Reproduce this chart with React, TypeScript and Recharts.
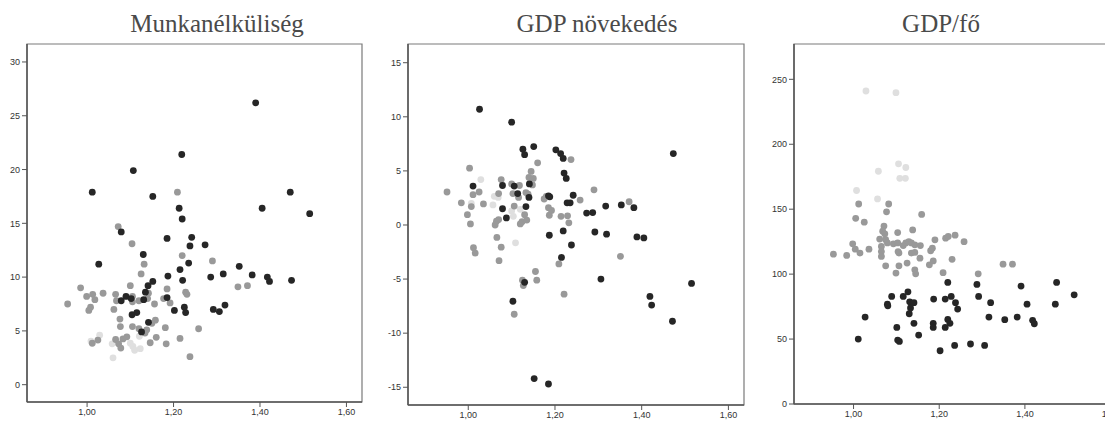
import React from "react";
import { ScatterChart, Scatter, XAxis, YAxis, ReferenceArea } from "recharts";

type P = [number, number];

const TITLES = ["Munkanélküliség", "GDP növekedés", "GDP/fő"];
const X_TICKS = [1.0, 1.2, 1.4, 1.6];
const X_DOMAIN: [number, number] = [0.861, 1.636];

const Y1_TICKS = [0, 5, 10, 15, 20, 25, 30];
const Y2_TICKS = [-15, -10, -5, 0, 5, 10, 15];
const Y3_TICKS = [0, 50, 100, 150, 200, 250];

// Panel 1: Munkanélküliség
const unempDark: P[] = [
  [1.390, 26.2], [1.219, 21.4], [1.107, 19.9], [1.012, 17.9], [1.152, 17.5], [1.470, 17.9],
  [1.213, 16.4], [1.405, 16.4], [1.220, 15.4], [1.515, 15.9], [1.079, 14.2], [1.185, 13.6],
  [1.242, 13.7], [1.238, 12.9], [1.273, 13.0], [1.130, 12.1], [1.027, 11.2], [1.235, 11.3],
  [1.352, 11.0], [1.215, 10.7], [1.187, 10.1], [1.221, 9.7], [1.286, 10.0], [1.315, 10.3],
  [1.382, 10.2], [1.417, 10.0], [1.422, 9.6], [1.473, 9.7], [1.079, 7.8], [1.090, 8.2],
  [1.102, 8.0], [1.135, 8.6], [1.141, 9.2], [1.152, 9.6], [1.131, 7.9], [1.185, 8.1],
  [1.202, 6.9], [1.225, 7.2], [1.228, 6.7], [1.104, 6.5], [1.115, 6.7], [1.142, 5.8],
  [1.126, 4.9], [1.292, 7.0], [1.306, 6.8], [1.319, 7.4],
];
const unempGray: P[] = [
  [1.209, 17.9], [1.072, 14.7], [1.104, 13.1], [1.220, 12.0], [1.132, 11.2], [1.290, 11.5],
  [1.125, 10.3], [1.349, 9.1], [1.371, 9.2], [0.985, 9.0], [0.955, 7.5], [0.999, 8.2],
  [1.013, 8.4], [1.018, 7.9], [1.008, 7.2], [1.004, 6.9], [1.037, 8.5], [1.066, 8.4],
  [1.068, 7.8], [1.062, 7.0], [1.100, 9.2], [1.142, 8.5], [1.156, 7.5], [1.185, 8.9],
  [1.177, 8.0], [1.192, 7.6], [1.228, 8.6], [1.231, 8.4], [1.076, 6.1], [1.077, 5.4],
  [1.105, 5.4], [1.158, 6.0], [1.150, 5.7], [1.138, 5.1], [1.120, 5.2], [1.134, 4.8],
  [1.181, 5.3], [1.258, 5.2], [1.160, 4.4], [1.215, 4.3], [1.146, 3.9], [1.183, 3.8],
  [1.238, 2.6], [1.025, 4.15], [1.012, 3.85], [1.066, 4.2], [1.073, 3.8], [1.078, 3.4],
  [1.083, 4.25], [1.092, 4.45], [1.105, 8.2], [1.120, 7.8], [1.140, 8.0], [1.105, 7.7],
];
const unempLight: P[] = [
  [1.009, 4.05], [1.029, 4.6], [1.058, 3.8], [1.060, 2.5], [1.100, 3.85], [1.106, 3.55],
  [1.110, 3.2], [1.123, 3.35], [1.121, 4.5],
];

// Panel 2: GDP növekedés
const growthDark: P[] = [
  [1.026, 10.7], [1.100, 9.5], [1.126, 7.0], [1.130, 6.5], [1.151, 7.25], [1.202, 6.95],
  [1.213, 6.6], [1.219, 6.15], [1.473, 6.6], [1.221, 4.8], [1.226, 4.3], [1.011, 3.6],
  [1.079, 3.65], [1.106, 3.6], [1.141, 3.8], [1.114, 2.9], [1.140, 2.55], [1.242, 2.75],
  [1.185, 2.7], [1.188, 2.6], [1.228, 2.05], [1.235, 2.05], [1.317, 1.75], [1.353, 1.85],
  [1.382, 1.6], [1.133, 1.7], [1.079, 1.5], [1.273, 1.1], [1.287, 1.15], [1.088, 0.65],
  [1.187, -0.95], [1.219, -0.55], [1.292, -0.65], [1.319, -0.85], [1.389, -1.1], [1.405, -1.2],
  [1.238, -1.85], [1.215, -3.0], [1.130, -5.3], [1.306, -5.0], [1.515, -5.4], [1.419, -6.6],
  [1.423, -7.4], [1.103, -7.05], [1.471, -8.9], [1.152, -14.2], [1.185, -14.7],
];
const growthGray: P[] = [
  [1.237, 6.05], [1.160, 5.75], [1.003, 5.25], [1.145, 4.95], [1.140, 4.4], [1.076, 4.2],
  [1.148, 3.7], [0.951, 3.05], [1.011, 2.8], [1.025, 3.05], [1.290, 3.25], [1.175, 2.4],
  [1.258, 2.3], [0.984, 2.05], [1.035, 1.95], [1.371, 2.15], [1.007, 1.7], [0.998, 0.95],
  [1.005, 0.1], [1.065, 0.35], [1.070, 0.5], [1.106, 1.75], [1.124, 0.3], [1.130, 0.95],
  [1.187, 0.9], [1.192, 1.35], [1.214, 0.8], [1.229, 0.85], [1.232, 0.2], [1.062, 0.0],
  [1.066, -1.15], [1.012, -2.1], [1.016, -2.6], [1.076, -2.05], [1.071, -3.3], [1.209, -3.6],
  [1.351, -2.9], [1.155, -4.3], [1.158, -5.1], [1.125, -5.1], [1.127, -5.6], [1.221, -6.4],
  [1.106, -8.25], [1.070, 2.9], [1.103, 2.9], [1.116, 2.55], [1.133, 3.0], [1.138, 2.85],
  [1.180, 2.65], [1.118, 3.65], [1.120, 0.1], [1.135, 0.45], [1.185, 1.6], [1.100, 3.8],
  [1.150, 4.3],
];
const growthLight: P[] = [
  [1.029, 4.2], [1.007, 2.0], [1.057, 1.85], [1.060, 2.65], [1.069, 2.55], [1.109, -1.65],
  [1.104, 0.8], [1.100, 1.3], [1.120, 1.45],
];

// Panel 3: GDP/fő
const gdpDark: P[] = [
  [1.220, 93.6], [1.288, 92.1], [1.474, 93.6], [1.391, 90.8], [1.089, 82.8], [1.116, 82.8],
  [1.127, 86.4], [1.131, 78.7], [1.141, 78.0], [1.133, 74.0], [1.130, 69.5], [1.079, 76.9],
  [1.080, 75.6], [1.187, 80.8], [1.214, 80.8], [1.228, 82.8], [1.238, 78.0], [1.243, 73.1],
  [1.292, 82.8], [1.320, 78.0], [1.405, 76.9], [1.471, 76.9], [1.515, 84.1], [1.027, 66.9],
  [1.141, 62.1], [1.186, 62.1], [1.186, 59.0], [1.214, 59.0], [1.220, 65.1], [1.225, 62.1],
  [1.316, 66.9], [1.353, 64.9], [1.382, 66.9], [1.418, 64.4], [1.422, 61.8], [1.101, 59.0],
  [1.011, 50.0], [1.103, 49.2], [1.107, 48.2], [1.152, 53.1], [1.202, 41.0], [1.236, 45.1],
  [1.273, 46.2], [1.306, 45.1],
];
const gdpGray: P[] = [
  [1.012, 154], [1.082, 154], [1.077, 148], [1.159, 146], [1.005, 143], [1.025, 140],
  [1.071, 137], [1.068, 133], [1.073, 131], [1.103, 132], [1.138, 134], [1.061, 127],
  [1.075, 126.5], [1.079, 124], [1.093, 123.3], [1.103, 124], [1.116, 122], [1.122, 124],
  [1.129, 125], [1.135, 124], [1.143, 122.6], [1.156, 122], [1.190, 126.4], [1.184, 120],
  [1.180, 118], [1.215, 127.7], [1.221, 129], [1.237, 130], [1.258, 125], [0.998, 123.3],
  [1.004, 119.2], [1.015, 116.2], [1.036, 119.2], [0.953, 115.4], [0.984, 114.4], [1.065, 121.3],
  [1.065, 117.4], [1.065, 113.6], [1.104, 117.4], [1.106, 116.2], [1.125, 108.5], [1.135, 116.2],
  [1.143, 116.7], [1.143, 103.3], [1.145, 100.2], [1.075, 106.4], [1.106, 106.4], [1.099, 100.8],
  [1.155, 112.3], [1.177, 107.2], [1.186, 110.2], [1.230, 111.4], [1.209, 101.1], [1.291, 100.2],
  [1.349, 107.7], [1.371, 107.7],
];
const gdpLight: P[] = [
  [1.029, 241.0], [1.099, 239.7], [1.105, 184.9], [1.122, 182.1], [1.058, 179.2], [1.108, 173.8],
  [1.121, 173.8], [1.007, 164.4], [1.056, 157.9],
];

const DARK = "#262626";
const GRAY = "#999999";
const LIGHT = "#dfdfdf";

const toObj = (arr: P[]) => arr.map(([x, y]) => ({ x, y }));

const dot = (color: string) => (props: any) => (
  <circle cx={props.cx} cy={props.cy} r={3.4} fill={color} />
);

const tickStyle = { fontSize: 9, fill: "#333", fontFamily: "'Liberation Sans', Arial, sans-serif" };
const fmtX = (v: number) => v.toFixed(2).replace(".", ",");

interface PanelProps {
  left: number;
  width: number;
  yAxisWidth: number;
  marginRight: number;
  plotBottom: number;
  yDomain: [number, number];
  yTicks: number[];
  dark: P[];
  gray: P[];
  light: P[];
}

const H = 415;
const TOP = 36;

function Panel(p: PanelProps) {
  return (
    <div style={{ position: "absolute", left: p.left, top: 0 }}>
      <ScatterChart
        width={p.width}
        height={H}
        margin={{ top: TOP, right: p.marginRight, bottom: 0, left: 0 }}
      >
        <XAxis
          type="number"
          dataKey="x"
          domain={X_DOMAIN}
          ticks={X_TICKS}
          allowDataOverflow
          tickFormatter={fmtX}
          height={H - p.plotBottom}
          tick={tickStyle}
          tickSize={5}
          tickMargin={2}
          axisLine={{ stroke: "#555", strokeWidth: 1.5 }}
          tickLine={{ stroke: "#555" }}
        />
        <YAxis
          type="number"
          dataKey="y"
          domain={p.yDomain}
          ticks={p.yTicks}
          allowDataOverflow
          width={p.yAxisWidth}
          tick={tickStyle}
          tickSize={5}
          tickMargin={2}
          axisLine={{ stroke: "#555", strokeWidth: 1.5 }}
          tickLine={{ stroke: "#555" }}
        />
        <ReferenceArea
          x1={X_DOMAIN[0]}
          x2={X_DOMAIN[1]}
          y1={p.yDomain[0]}
          y2={p.yDomain[1]}
          fill="none"
          stroke="#7a7a7a"
          strokeWidth={1.2}
          ifOverflow="visible"
        />
        <Scatter data={toObj(p.light)} shape={dot(LIGHT)} isAnimationActive={false} />
        <Scatter data={toObj(p.gray)} shape={dot(GRAY)} isAnimationActive={false} />
        <Scatter data={toObj(p.dark)} shape={dot(DARK)} isAnimationActive={false} />
      </ScatterChart>
    </div>
  );
}

const titleStyle = (cx: number): React.CSSProperties => ({
  position: "absolute",
  left: cx - 150,
  width: 300,
  top: 2,
  textAlign: "center",
  fontFamily: "'Liberation Serif', 'Times New Roman', serif",
  fontSize: 25,
  lineHeight: "28px",
  color: "#4a4a4a",
});

export default function App() {
  return (
    <div style={{ position: "relative", width: 1105, height: H, overflow: "hidden", background: "#fff" }}>
      <Panel
        left={0}
        width={360}
        yAxisWidth={19}
        marginRight={6}
        plotBottom={394}
        yDomain={[-1.61, 31.67]}
        yTicks={Y1_TICKS}
        dark={unempDark}
        gray={unempGray}
        light={unempLight}
      />
      <Panel
        left={370}
        width={372}
        yAxisWidth={30}
        marginRight={6}
        plotBottom={397}
        yDomain={[-16.64, 16.73]}
        yTicks={Y2_TICKS}
        dark={growthDark}
        gray={growthGray}
        light={growthLight}
      />
      <Panel
        left={750}
        width={375}
        yAxisWidth={36}
        marginRight={7}
        plotBottom={396}
        yDomain={[0, 277.2]}
        yTicks={Y3_TICKS}
        dark={gdpDark}
        gray={gdpGray}
        light={gdpLight}
      />
      <div style={titleStyle(209)}>{TITLES[0]}</div>
      <div style={titleStyle(589)}>{TITLES[1]}</div>
      <div style={titleStyle(933)}>{TITLES[2]}</div>
    </div>
  );
}
